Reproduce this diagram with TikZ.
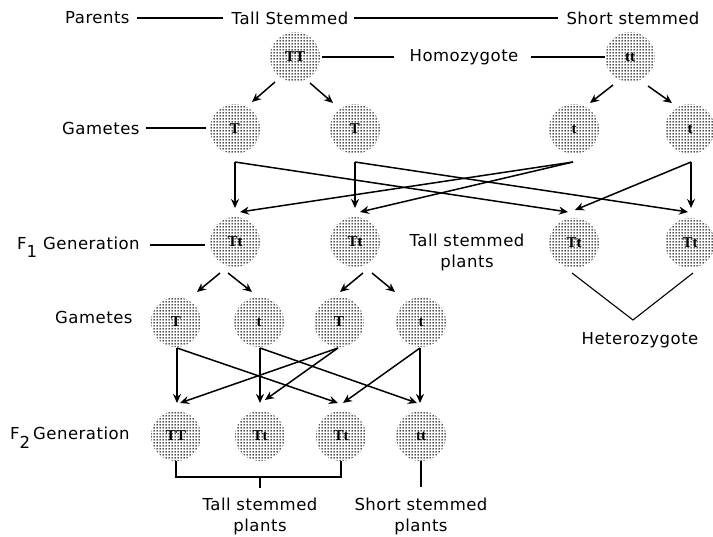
\documentclass[tikz,border=0pt]{standalone}
\usepackage{fontspec}
\setmainfont{DejaVu Sans}[LetterSpace=3]
\newfontfamily\cellfont{Liberation Serif}
\usetikzlibrary{calc,patterns,arrows.meta}
\pgfdeclarepatternformonly{celldots}{\pgfpointorigin}{\pgfqpoint{3pt}{3pt}}{\pgfqpoint{3pt}{3pt}}{%
  \pgfpathcircle{\pgfqpoint{1.5pt}{1.5pt}}{1.05pt}\pgfusepath{fill}}
\begin{document}
\begin{tikzpicture}[x=1pt,y=-1pt,
  lbl/.style={font=\fontsize{16.5}{21}\selectfont, inner sep=0pt, align=center},
  cell/.style={circle, minimum size=50pt, inner sep=0pt, pattern=celldots, pattern color=black!90,
    font=\cellfont\bfseries\fontsize{15}{15}\selectfont},
  arr/.style={line width=1.5pt, -{Stealth[length=9pt,width=8pt]}},
  ln/.style={line width=1.5pt}]
\useasboundingbox (0,0) rectangle (713,537);

% ---------- cells ----------
\node[cell] (P1) at (295,57) {TT};
\node[cell] (P2) at (630,57) {tt};
\node[cell] (G1) at (235,129) {T};
\node[cell] (G2) at (355,129) {T};
\node[cell] (G3) at (574,129) {t};
\node[cell] (G4) at (690,129) {t};
\node[cell] (F1a) at (235,242) {Tt};
\node[cell] (F1b) at (355,242) {Tt};
\node[cell] (F1c) at (574,243) {Tt};
\node[cell] (F1d) at (690,243) {Tt};
\node[cell] (H1) at (176,322) {T};
\node[cell] (H2) at (259,322) {t};
\node[cell] (H3) at (339,322) {T};
\node[cell] (H4) at (421,322) {t};
\node[cell] (S1) at (176,436) {TT};
\node[cell] (S2) at (260,436) {Tt};
\node[cell] (S3) at (341,436) {Tt};
\node[cell] (S4) at (421,436) {tt};

% ---------- labels ----------
\node[lbl, anchor=west] (par) at (65,18) {Parents};
\node[lbl] (tallS) at (290,18) {Tall Stemmed};
\node[lbl] (shortS) at (633,18) {Short stemmed};
\node[lbl] (homo) at (464,57) {Homozygote};
\node[lbl, anchor=west] (gam1) at (62,128) {Gametes};
\node[lbl, anchor=west] (f1lab) at (17,243) {F\raisebox{-8pt}[0pt][0pt]{1}\hspace{6pt}Generation};
\node[lbl] (tallpl) at (467,252) {Tall stemmed\\plants};
\node[lbl] (hetero) at (640,340) {Heterozygote};
\node[lbl, anchor=west] (gam2) at (55,317) {Gametes};
\node[lbl, anchor=west] (f2lab) at (10,433) {F\raisebox{-9pt}[0pt][0pt]{2}\hspace{3pt}Generation};
\node[lbl] (tallpl2) at (260,516) {Tall stemmed\\plants};
\node[lbl] (shortpl2) at (421,516) {Short stemmed\\plants};

% ---------- label lines ----------
\draw[ln] ($(par.east)+(7,0)$) -- ($(tallS.west)+(-8,0)$);
\draw[ln] ($(tallS.east)+(5,0)$) -- ($(shortS.west)+(-8,0)$);
\draw[ln] ($(P1.east)+(2,0)$) -- ($(homo.west)+(-15,0)$);
\draw[ln] ($(homo.east)+(12,0)$) -- (P2.west);
\draw[ln] ($(gam1.east)+(6,0)$) -- ($(G1.west |- gam1.east)+(-4,0)$);
\coordinate (f1y) at (0,245);
\draw[ln] ($(f1lab.east |- f1y)+(10,0)$) -- ($(F1a.west |- f1y)+(-5,0)$);

% ---------- parents -> gametes ----------
\draw[arr] ($(P1)+(-20,25)$) -- ($(G1)+(17,-27)$);
\draw[arr] ($(P1)+(15,26)$) -- ($(G2)+(-22,-26)$);
\draw[arr] ($(P2)+(-17,28)$) -- ($(G3)+(16,-26)$);
\draw[arr] ($(P2)+(18,29)$) -- ($(G4)+(-18,-26)$);

% ---------- gametes -> F1 ----------
\draw[arr] ($(G1)+(0,33)$) -- ($(F1a)+(0,-34)$);
\draw[arr] ($(G1)+(0,33)$) -- ($(F1c)+(-6,-31)$);
\draw[arr] ($(G2)+(0,33)$) -- ($(F1b)+(0,-34)$);
\draw[arr] ($(G2)+(0,33)$) -- ($(F1d)+(-2,-31)$);
\draw[arr] ($(G3)+(-1,33)$) -- ($(F1a)+(5,-30)$);
\draw[arr] ($(G3)+(-1,33)$) -- ($(F1b)+(5,-30)$);
\draw[arr] ($(G4)+(1,33)$) -- ($(F1c)+(1,-33)$);
\draw[arr] ($(G4)+(1,33)$) -- ($(F1d)+(1,-35)$);

% ---------- F1 -> gametes ----------
\draw[arr] ($(F1a)+(-15,31)$) -- ($(H1)+(21,-30)$);
\draw[arr] ($(F1a)+(-7,31)$) -- ($(H2)+(-7,-30)$);
\draw[arr] ($(F1b)+(8,31)$) -- ($(H3)+(1,-30)$);
\draw[arr] ($(F1b)+(17,31)$) -- ($(H4)+(-26,-30)$);

% ---------- gametes -> F2 ----------
\draw[arr] ($(H1)+(1,26)$) -- ($(S1)+(1,-33)$);
\draw[arr] ($(H1)+(1,26)$) -- ($(S3)+(-3,-33)$);
\draw[arr] ($(H2)+(1,26)$) -- ($(S2)+(0,-33)$);
\draw[arr] ($(H2)+(1,26)$) -- ($(S4)+(-4,-33)$);
\draw[arr] ($(H3)+(-1,26)$) -- ($(S1)+(4,-33)$);
\draw[arr] ($(H3)+(-1,26)$) -- ($(S2)+(5,-36)$);
\draw[arr] ($(H4)+(-1,26)$) -- ($(S3)+(2,-33)$);
\draw[arr] ($(H4)+(-1,26)$) -- ($(S4)+(-1,-33)$);

% ---------- heterozygote ----------
\coordinate (hv) at (633,320);
\draw[line width=1.1pt] ($(F1c)+(-2,30)$) -- (hv) -- ($(F1d)+(3,30)$);

% ---------- F2 brackets ----------
\coordinate (bk) at (260,477);
\draw[ln] (S1.south) -- (S1.south |- bk) -- (S3.south |- bk) -- (S3.south);
\draw[ln] (bk) -- ($(bk)+(0,11)$);
\draw[ln] (S4.south) -- ($(S4.south)+(0,26)$);
\end{tikzpicture}
\end{document}
